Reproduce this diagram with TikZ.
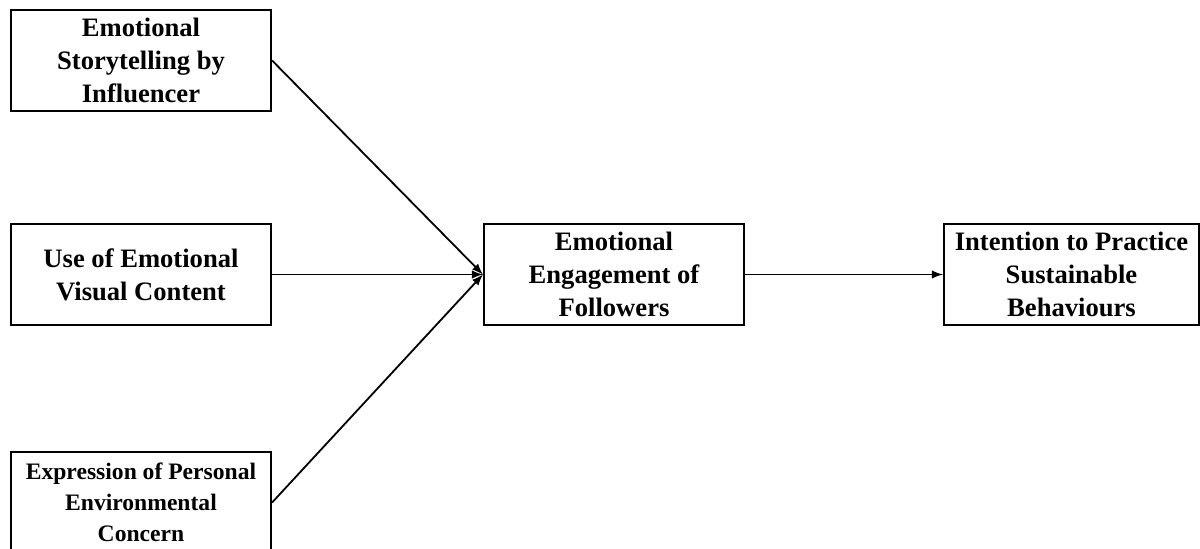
\documentclass[tikz,border=0pt]{standalone}
\usepackage{fontspec}
\setmainfont{Liberation Serif}
\begin{document}
\begin{tikzpicture}[>=latex, x=0.5pt, y=-0.5pt,
  box/.style={draw, line width=1.1pt, minimum width=130pt, minimum height=50.5pt,
    align=center, inner sep=0pt, font=\bfseries\fontsize{13.3}{16.5}\selectfont},
  link/.style={->, line width=0.9pt}]
\useasboundingbox (0,0) rectangle (1200,548);

\node [box] (story) at (141,60.5) {Emotional\\Storytelling by\\Influencer};
\node [box] (visual) at (141,274.5) {Use of Emotional\\Visual Content};
\node [box, font=\bfseries\fontsize{11.8}{15.5}\selectfont] (concern) at (141,502.5) {Expression of Personal\\Environmental\\Concern};
\node [box] (engage) at (614,274.5) {Emotional\\Engagement of\\Followers};
\node [box, minimum width=127.5pt] (intent) at (1071.5,274.5) {Intention to Practice\\Sustainable\\Behaviours};

\draw [link] (story.east) -- (engage.west);
\draw [link] (visual.east) -- (engage.west);
\draw [link] (concern.east) -- (engage.west);
\draw [link] (engage.east) -- (intent.west);

\end{tikzpicture}
\end{document}
